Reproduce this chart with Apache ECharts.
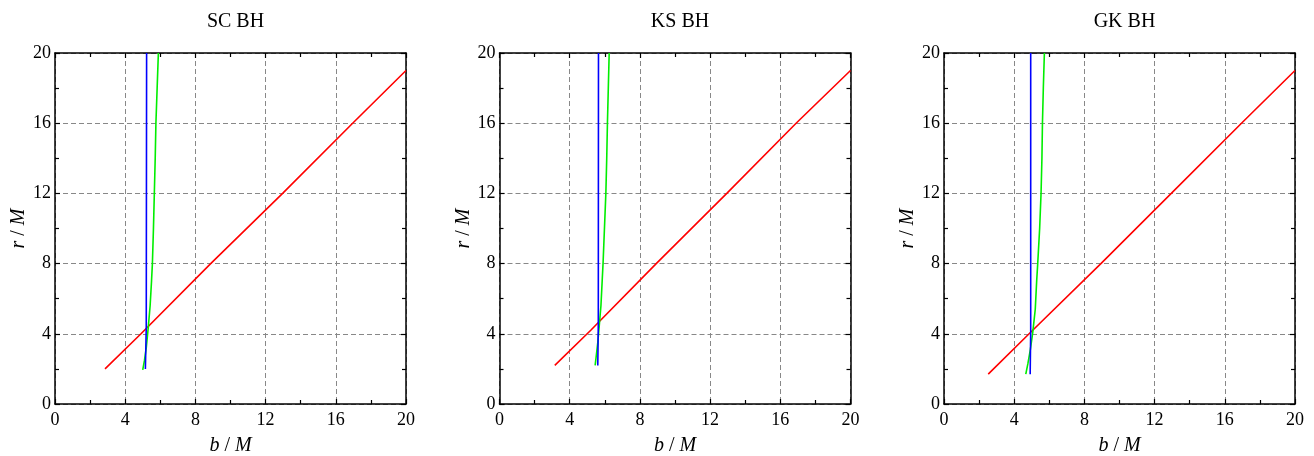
<!DOCTYPE html>
<html><head><meta charset="utf-8">
<script src="https://cdn.jsdelivr.net/npm/echarts@6/dist/echarts.min.js"></script>
<style>html,body{margin:0;padding:0;background:#fff}#c{width:1314px;height:456px}</style>
</head><body><div id="c"></div>
<script>
const titles = ['SC BH', 'KS BH', 'GK BH'];
const axisTicks = [0, 4, 8, 12, 16, 20];

// red curves (b, r)
const scRedB = [2.85, 4.9, 8.87, 12.97, 16.96, 20];
const scRedR = [2.0, 4.0, 8, 12, 16, 19.0];
const ksRedB = [3.15, 5.2, 8.93, 12.95, 16.9, 20];
const ksRedR = [2.2, 4.2, 8, 12, 16, 19.0];
const gkRedB = [2.52, 4.85, 8.94, 12.95, 16.95, 20];
const gkRedR = [1.7, 4.0, 8, 12, 16, 19.0];

// blue curves
const scBlueB = [5.15, 5.2, 5.22];
const scBlueR = [2.0, 4.4, 20];
const ksBlueB = [5.6, 5.63, 5.64];
const ksBlueR = [2.2, 4.6, 20];
const gkBlueB = [4.91, 4.94, 4.94];
const gkBlueR = [1.7, 4.1, 20];

// green curves
const scGreenB = [5.0, 5.1, 5.2, 5.32, 5.42, 5.5, 5.55, 5.61, 5.66, 5.71, 5.75, 5.82, 5.89];
const scGreenR = [1.95, 2.5, 3.2, 4.42, 5.6, 7.0, 8, 10, 12, 14, 16, 18, 20];
const ksGreenB = [5.45, 5.52, 5.6, 5.68, 5.78, 5.85, 5.9, 5.98, 6.06, 6.11, 6.15, 6.2, 6.25];
const ksGreenR = [2.2, 2.8, 3.5, 4.4, 5.6, 7.0, 8, 10, 12, 14, 16, 18, 20];
const gkGreenB = [4.66, 4.78, 4.92, 5.06, 5.2, 5.28, 5.34, 5.45, 5.53, 5.58, 5.61, 5.66, 5.72];
const gkGreenR = [1.7, 2.3, 3.1, 4.1, 5.4, 7.0, 8, 10, 12, 14, 16, 18, 20];

const zip = (a, b) => a.map((v, i) => [v, b[i]]);
const panels = [
  {red: zip(scRedB, scRedR), blue: zip(scBlueB, scBlueR), green: zip(scGreenB, scGreenR)},
  {red: zip(ksRedB, ksRedR), blue: zip(ksBlueB, ksBlueR), green: zip(ksGreenB, ksGreenR)},
  {red: zip(gkRedB, gkRedR), blue: zip(gkBlueB, gkBlueR), green: zip(gkGreenB, gkGreenR)}
];

const font = '"Liberation Serif", "Times New Roman", serif';
const lefts = [55, 499.5, 944];
const W = 351, H = 351, TOP = 53;

const grids = [], xAxes = [], yAxes = [], series = [], titleOpts = [];
lefts.forEach((l, i) => {
  grids.push({left: l, top: TOP, width: W, height: H, show: false, containLabel: false, outerBoundsMode: 'none'});
  titleOpts.push({text: titles[i], left: l + W / 2, top: 7, textAlign: 'center',
    textStyle: {fontFamily: font, fontSize: 20, fontWeight: 'normal', color: '#000'}});
  const base = (pos) => ({
    type: 'value', gridIndex: i, min: axisTicks[0], max: axisTicks[axisTicks.length - 1], interval: 4,
    position: pos,
    axisLine: {show: true, onZero: false, lineStyle: {color: '#000', width: 1.5}},
    axisTick: {show: true, inside: true, length: 5, lineStyle: {color: '#000', width: 1.2}},
    minorTick: {show: true, splitNumber: 2, length: 4, lineStyle: {color: '#000', width: 1.2}},
    axisLabel: {show: false},
    splitLine: {show: false}
  });
  const nameStyle = {fontFamily: font, fontSize: 20, color: '#000',
    rich: {i: {fontFamily: font, fontSize: 20, fontStyle: 'italic', color: '#000'}}};
  const xb = base('bottom');
  xb.axisLabel = {show: true, fontFamily: font, fontSize: 18, color: '#000', margin: 7};
  xb.splitLine = {show: true, lineStyle: {color: '#888', width: 1, type: [5, 3]}};
  xb.name = '{i|b} / {i|M}';
  xb.nameLocation = 'middle';
  xb.nameGap = 32;
  xb.nameTextStyle = nameStyle;
  xAxes.push(xb);
  xAxes.push(base('top'));
  const yl = base('left');
  yl.axisLabel = {show: true, fontFamily: font, fontSize: 18, color: '#000', margin: 4};
  yl.splitLine = {show: true, lineStyle: {color: '#888', width: 1, type: [5, 3]}};
  yl.name = '{i|r} / {i|M}';
  yl.nameLocation = 'middle';
  yl.nameRotate = 90;
  yl.nameGap = 26;
  yl.nameTextStyle = nameStyle;
  yAxes.push(yl);
  yAxes.push(base('right'));
  const p = panels[i];
  [['red', '#ff0000'], ['blue', '#0000ff'], ['green', '#00ee00']].forEach(([k, c]) => {
    series.push({type: 'line', xAxisIndex: 2 * i, yAxisIndex: 2 * i, data: p[k], smooth: false,
      symbol: 'none', lineStyle: {color: c, width: 1.6}, z: k === 'blue' ? 3 : 2, animation: false});
  });
});

const chart = echarts.init(document.getElementById('c'), null, {renderer: 'canvas'});
chart.setOption({
  backgroundColor: '#fff', animation: false,
  title: titleOpts, grid: grids, xAxis: xAxes, yAxis: yAxes, series: series
});
</script></body></html>
